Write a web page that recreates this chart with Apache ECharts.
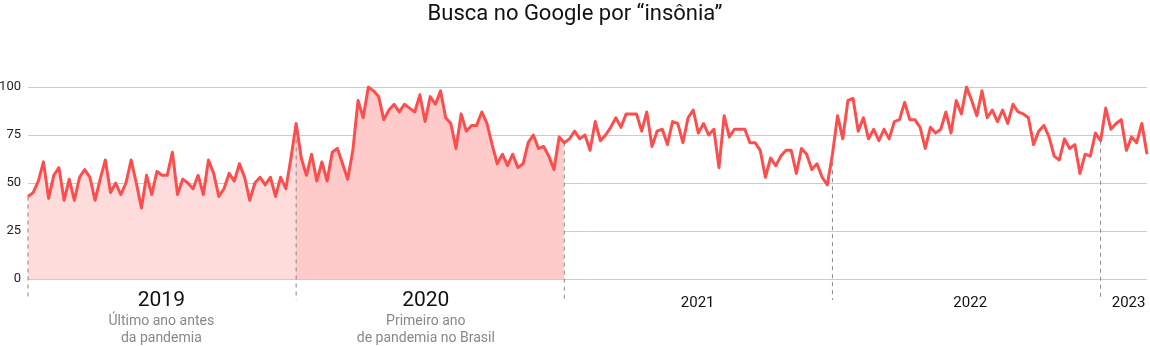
<!DOCTYPE html>
<html>
<head>
<meta charset="utf-8">
<script src="https://cdn.jsdelivr.net/npm/echarts@6/dist/echarts.min.js"></script>
<style>
  html, body { margin: 0; padding: 0; background: #fff; }
  #chart { width: 1150px; height: 346px; }
</style>
</head>
<body>
<div id="chart"></div>
<script>
// Weekly Google Trends interest for "insônia" (weeks start on Sunday)
const startDate = '2019-01-06';
const values = [
  43, 45, 51, 61, 42, 54, 58, 41, 52, 41, 53, 57, 53, 41, 52, 62, 45, 50, 44, 50,
  62, 50, 37, 54, 44, 56, 54, 54, 66, 44, 52, 50, 47, 54,
  44, 62, 55, 43, 47, 55, 51, 60, 53, 41, 50, 53, 49, 53, 43, 53, 47, 63,
  81, 63, 54, 65, 51, 61, 51, 66, 68, 60, 52, 67, 93, 84, 100, 98, 95, 83, 88,
  91, 87, 91, 89, 87, 96, 82, 95, 91, 98, 84, 81, 68, 86, 77, 80, 80, 87, 81, 70,
  60, 65, 59, 65, 58, 60, 71, 75, 68, 69, 64, 57, 74, 71, 73, 77, 73,
  75, 67, 82, 72, 75, 79, 84, 79, 86, 86, 86, 77, 87, 69, 77, 78, 70, 82, 81, 71,
  84, 88, 76, 81, 75, 78, 58, 85, 74, 78, 78, 78, 71, 71, 67, 53,
  63, 59, 64, 67, 67, 55, 68, 65, 57, 60, 53, 49,
  65, 85, 73, 93, 94, 77, 84, 73, 78, 72, 78, 73, 82, 83, 92, 83, 83, 79, 68, 79,
  76, 78, 87, 76, 93,
  86, 100, 93, 85, 98, 84, 88, 82, 88, 81, 91, 87, 86, 84, 70, 77, 80, 74, 64, 62,
  73, 68, 70, 55, 65, 64, 76, 72, 89, 78, 81, 83, 67, 74, 71, 81, 65
];
// first week of each year
const yearStarts = ['2019-01-06', '2020-01-05', '2021-01-03', '2022-01-02', '2023-01-01'];
const yearLabels = ['2019', '2020', '2021', '2022', '2023'];
const yearLabelDates = ['2019-07-06', '2020-06-29', '2021-07-03', '2022-07-08', '2023-02-08'];
const yearNotes = [
  ['Último ano antes', 'da pandemia'],
  ['Primeiro ano', 'de pandemia no Brasil'],
  [], [], []
];
const highlightedYears = [['2019-01-06', '2020-01-05'], ['2020-01-05', '2021-01-03']];
const yTicks = [0, 25, 50, 75, 100];

const DAY = 86400000;
const ts = s => Date.parse(s + 'T00:00:00Z');
const t0 = ts(startDate);
const weeks = values.map((_, i) => t0 + i * 7 * DAY);
const lineData = values.map((v, i) => [weeks[i], v]);

function valueAt(t) {
  for (let i = 0; i < weeks.length - 1; i++) {
    if (t >= weeks[i] && t <= weeks[i + 1]) {
      const f = (t - weeks[i]) / (weeks[i + 1] - weeks[i]);
      return values[i] + f * (values[i + 1] - values[i]);
    }
  }
  return values[0];
}
const boundaryData = yearStarts.map(s => [ts(s), valueAt(ts(s))]);
const labelData = yearLabelDates.map((s, i) => [ts(s), i]);

const RED = '#fd4e4e';
const FONT = 'Roboto, "Noto Sans", sans-serif';

const chart = echarts.init(document.getElementById('chart'), null, { renderer: 'canvas' });
chart.setOption({
  animation: false,
  backgroundColor: '#ffffff',
  title: {
    text: 'Busca no Google por “insônia”',
    left: 'center',
    top: -2,
    textStyle: { fontFamily: FONT, fontSize: 22, fontWeight: 'normal', color: '#111' }
  },
  grid: { left: 28, right: 3, top: 87, bottom: 67, outerBoundsMode: 'none', containLabel: false },
  xAxis: {
    type: 'time',
    min: weeks[0],
    max: weeks[weeks.length - 1],
    axisLine: { show: false },
    axisTick: { show: false },
    axisLabel: { show: false },
    splitLine: { show: false }
  },
  yAxis: {
    type: 'value',
    min: yTicks[0],
    max: yTicks[yTicks.length - 1],
    interval: 25,
    axisLine: { show: false },
    axisTick: { show: false },
    axisLabel: { margin: 7, color: '#222', fontSize: 13, fontFamily: FONT },
    splitLine: { lineStyle: { color: '#cccccc', width: 1 } }
  },
  visualMap: {
    show: false,
    type: 'piecewise',
    seriesIndex: 0,
    dimension: 0,
    pieces: [
      { gte: ts(highlightedYears[0][0]), lt: ts(highlightedYears[0][1]), color: '#ffdcdc' },
      { gte: ts(highlightedYears[1][0]), lt: ts(highlightedYears[1][1]), color: '#ffcaca' }
    ],
    outOfRange: { color: 'rgba(255,255,255,0)' }
  },
  series: [
    {
      type: 'line',
      data: lineData,
      showSymbol: false,
      lineStyle: { width: 0, opacity: 0 },
      areaStyle: { opacity: 1 },
      silent: true,
      z: 1
    },
    {
      type: 'custom',
      data: boundaryData,
      clip: false,
      silent: true,
      z: 2,
      renderItem: function (params, api) {
        const top = api.coord([api.value(0), api.value(1)]);
        const base = api.coord([api.value(0), 0]);
        return {
          type: 'line',
          shape: { x1: top[0], y1: top[1], x2: base[0], y2: base[1] + 21 },
          style: { stroke: '#888', lineWidth: 1, lineDash: [4, 4] }
        };
      }
    },
    {
      type: 'line',
      data: lineData,
      showSymbol: false,
      lineStyle: { color: RED, width: 3, join: 'round' },
      itemStyle: { color: RED },
      silent: true,
      z: 3
    },
    {
      type: 'custom',
      data: labelData,
      clip: false,
      silent: true,
      z: 4,
      renderItem: function (params, api) {
        const i = params.dataIndex;
        const p = api.coord([api.value(0), 0]);
        const notes = yearNotes[i];
        const big = notes.length > 0;
        const children = [{
          type: 'text',
          x: p[0],
          y: p[1] + (big ? 22 : 24),
          style: {
            text: yearLabels[i],
            fontSize: big ? 21 : 15,
            fontFamily: FONT,
            fill: '#111',
            textAlign: 'center',
            textVerticalAlign: 'middle'
          }
        }];
        notes.forEach((n, k) => {
          children.push({
            type: 'text',
            x: p[0],
            y: p[1] + 42 + k * 17,
            style: {
              text: n,
              fontSize: 14,
              fontFamily: FONT,
              fill: '#888',
              textAlign: 'center',
              textVerticalAlign: 'middle'
            }
          });
        });
        return { type: 'group', children: children };
      }
    }
  ]
});
</script>
</body>
</html>
